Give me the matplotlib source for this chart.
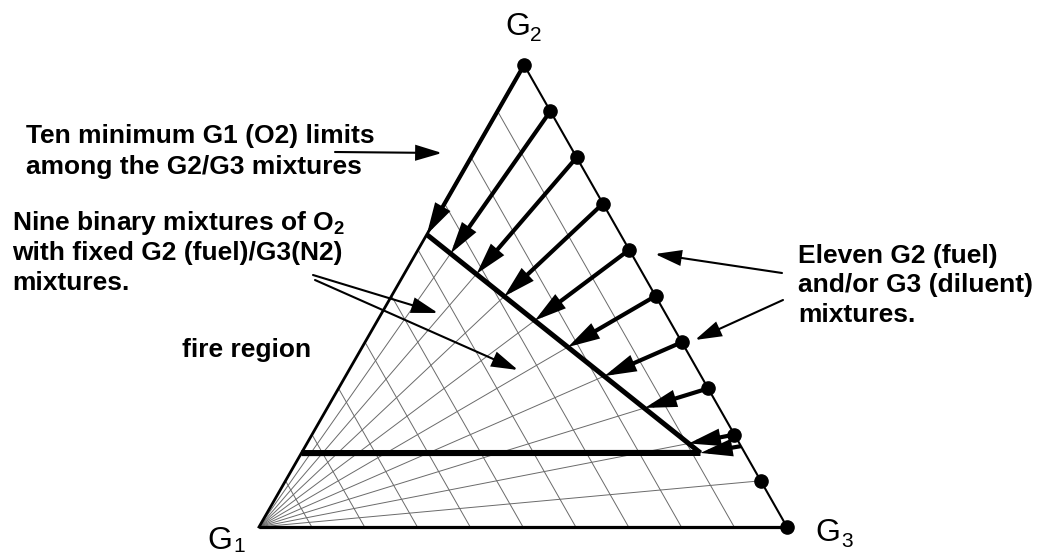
import numpy as np
import matplotlib
matplotlib.use("Agg")
import matplotlib.pyplot as plt
from matplotlib.patches import FancyArrowPatch

plt.rcParams['font.family'] = ['Liberation Sans', 'DejaVu Sans']
plt.rcParams['mathtext.fontset'] = 'custom'
plt.rcParams['mathtext.rm'] = 'Liberation Sans:bold'
plt.rcParams['mathtext.bf'] = 'Liberation Sans:bold'
plt.rcParams['mathtext.it'] = 'Liberation Sans:bold'

# ---------------- data (ternary fractions) ----------------
# eleven G2/G3 mixtures on the G2-G3 edge (fraction of G2)
mixture_g2 = [1.0, 0.9, 0.8, 0.7, 0.6, 0.5, 0.4, 0.3, 0.2, 0.1, 0.0]
# nine binary O2 mixing lines (fan from G1) to these mixtures
fan_g2 = [0.9, 0.8, 0.7, 0.6, 0.5, 0.4, 0.3, 0.2, 0.1]
# constant-G1 grid levels
grid_g1 = [0.1, 0.2, 0.3, 0.4, 0.5, 0.6, 0.7, 0.8, 0.9]
# ten minimum G1 (O2) limits: mixture (G2 fraction of G2/G3 part) and G1 at limit
limit_mix_g2 = [1.0, 0.9, 0.8, 0.7, 0.6, 0.5, 0.4, 0.3, 0.2, 0.175]
limit_g1 = [0.367, 0.342, 0.315, 0.287, 0.255, 0.221, 0.183, 0.141, 0.096, 0.084]
# horizontal (constant G2) limit line level
limit_flat_g2 = 0.16

# ---------------- ternary geometry ----------------
V1 = np.array([0.0, 0.0])      # G1
V2 = np.array([0.502, 0.875])  # G2
V3 = np.array([1.0, 0.0])      # G3


def tern(g1, g2, g3):
    return g1 * V1 + g2 * V2 + g3 * V3


def mix_point(s, g1=0.0):
    """point of mixture s (G2 share of the G2/G3 part) diluted with G1 fraction g1"""
    return tern(g1, (1 - g1) * s, (1 - g1) * (1 - s))


W, H = 1047, 556
fig = plt.figure(figsize=(W / 100, H / 100), dpi=100)
ax = fig.add_axes([0, 0, 1, 1])
S = 528.0
X0, Y0 = 259.0, 527.0
ax.set_xlim(-X0 / S, (W - X0) / S)
ax.set_ylim(-(H - Y0) / S, Y0 / S)
ax.axis('off')


def px(x, y):
    return ((x - X0) / S, (Y0 - y) / S)


grid_kw = dict(color='#6a6a6a', lw=0.7, zorder=1)
# constant G1 lines
for g in grid_g1:
    a = tern(g, 1 - g, 0)
    b = tern(g, 0, 1 - g)
    ax.plot([a[0], b[0]], [a[1], b[1]], **grid_kw)
# fan lines from G1
for s in fan_g2:
    b = mix_point(s)
    ax.plot([V1[0], b[0]], [V1[1], b[1]], **grid_kw)

# triangle edges
ax.plot([V1[0], V3[0]], [V1[1], V3[1]], color='black', lw=2.3, zorder=3, solid_capstyle='butt')
ax.plot([V1[0], V2[0]], [V1[1], V2[1]], color='black', lw=2.0, zorder=3)
ax.plot([V2[0], V3[0]], [V2[1], V3[1]], color='black', lw=1.5, zorder=3)

# limit points
lim_pts = np.array([mix_point(s, g) for s, g in zip(limit_mix_g2, limit_g1)])
# thick diagonal limit line
ax.plot([lim_pts[0, 0], lim_pts[-1, 0]], [lim_pts[0, 1], lim_pts[-1, 1]],
        color='black', lw=3.6, zorder=4, solid_capstyle='butt')
# thick horizontal limit line (constant G2)
corner = lim_pts[-1]
left = tern(1 - limit_flat_g2, limit_flat_g2, 0)
ax.plot([left[0], corner[0]], [left[1], corner[1]], color='black', lw=4.4,
        zorder=4, solid_capstyle='butt')

# thick arrows from mixtures to limits
for s, p in zip(limit_mix_g2, lim_pts):
    start = mix_point(s)
    arr = FancyArrowPatch(start, p, arrowstyle='-|>,head_length=0.8,head_width=0.22',
                          mutation_scale=20, lw=3.0, color='black', shrinkA=0,
                          shrinkB=0, zorder=5, joinstyle='miter', capstyle='butt')
    ax.add_patch(arr)

# mixture dots
dots = np.array([mix_point(s) for s in mixture_g2])
ax.plot(dots[:, 0], dots[:, 1], 'o', color='black', ms=9.5, zorder=6)

# ---------------- text ----------------
bold = dict(fontsize=19, fontweight='bold', va='baseline', ha='left', color='black')
ax.text(*px(26, 143), 'Ten minimum G1 (O2) limits', **bold)
ax.text(*px(26, 174), 'among the G2/G3 mixtures', **bold)
ax.text(*px(12, 230), r'Nine binary mixtures of O$_{2}$', **bold)
ax.text(*px(12, 260), 'with fixed G2 (fuel)/G3(N2)', **bold)
ax.text(*px(12, 290), 'mixtures.', **bold)
ax.text(*px(182, 357), 'fire region', **bold)
ax.text(*px(798, 263), 'Eleven G2 (fuel)', **bold)
ax.text(*px(798, 292), 'and/or G3 (diluent)', **bold)
ax.text(*px(798, 322), 'mixtures.', **bold)

lab = dict(fontsize=23, va='baseline', ha='left', color='black')
sub = dict(fontsize=15, va='baseline', ha='left', color='black')
ax.text(*px(505, 35), 'G', **lab)
ax.text(*px(530, 41), '2', **sub)
ax.text(*px(207, 549), 'G', **lab)
ax.text(*px(233, 552), '1', **sub)
ax.text(*px(815, 541), 'G', **lab)
ax.text(*px(841, 547), '3', **sub)

# annotation arrows
ann = [((335, 152), (442, 153)),
       ((313, 275), (438, 313)),
       ((315, 280), (518, 370)),
       ((782, 273), (655, 254)),
       ((783, 300), (695, 340))]
for a, b in ann:
    arr = FancyArrowPatch(px(*a), px(*b), arrowstyle='-|>,head_length=0.8,head_width=0.24',
                          mutation_scale=20, lw=1.5, color='black', shrinkA=0, shrinkB=0,
                          zorder=7, joinstyle='miter')
    ax.add_patch(arr)

fig.savefig('out.png', dpi=100)
